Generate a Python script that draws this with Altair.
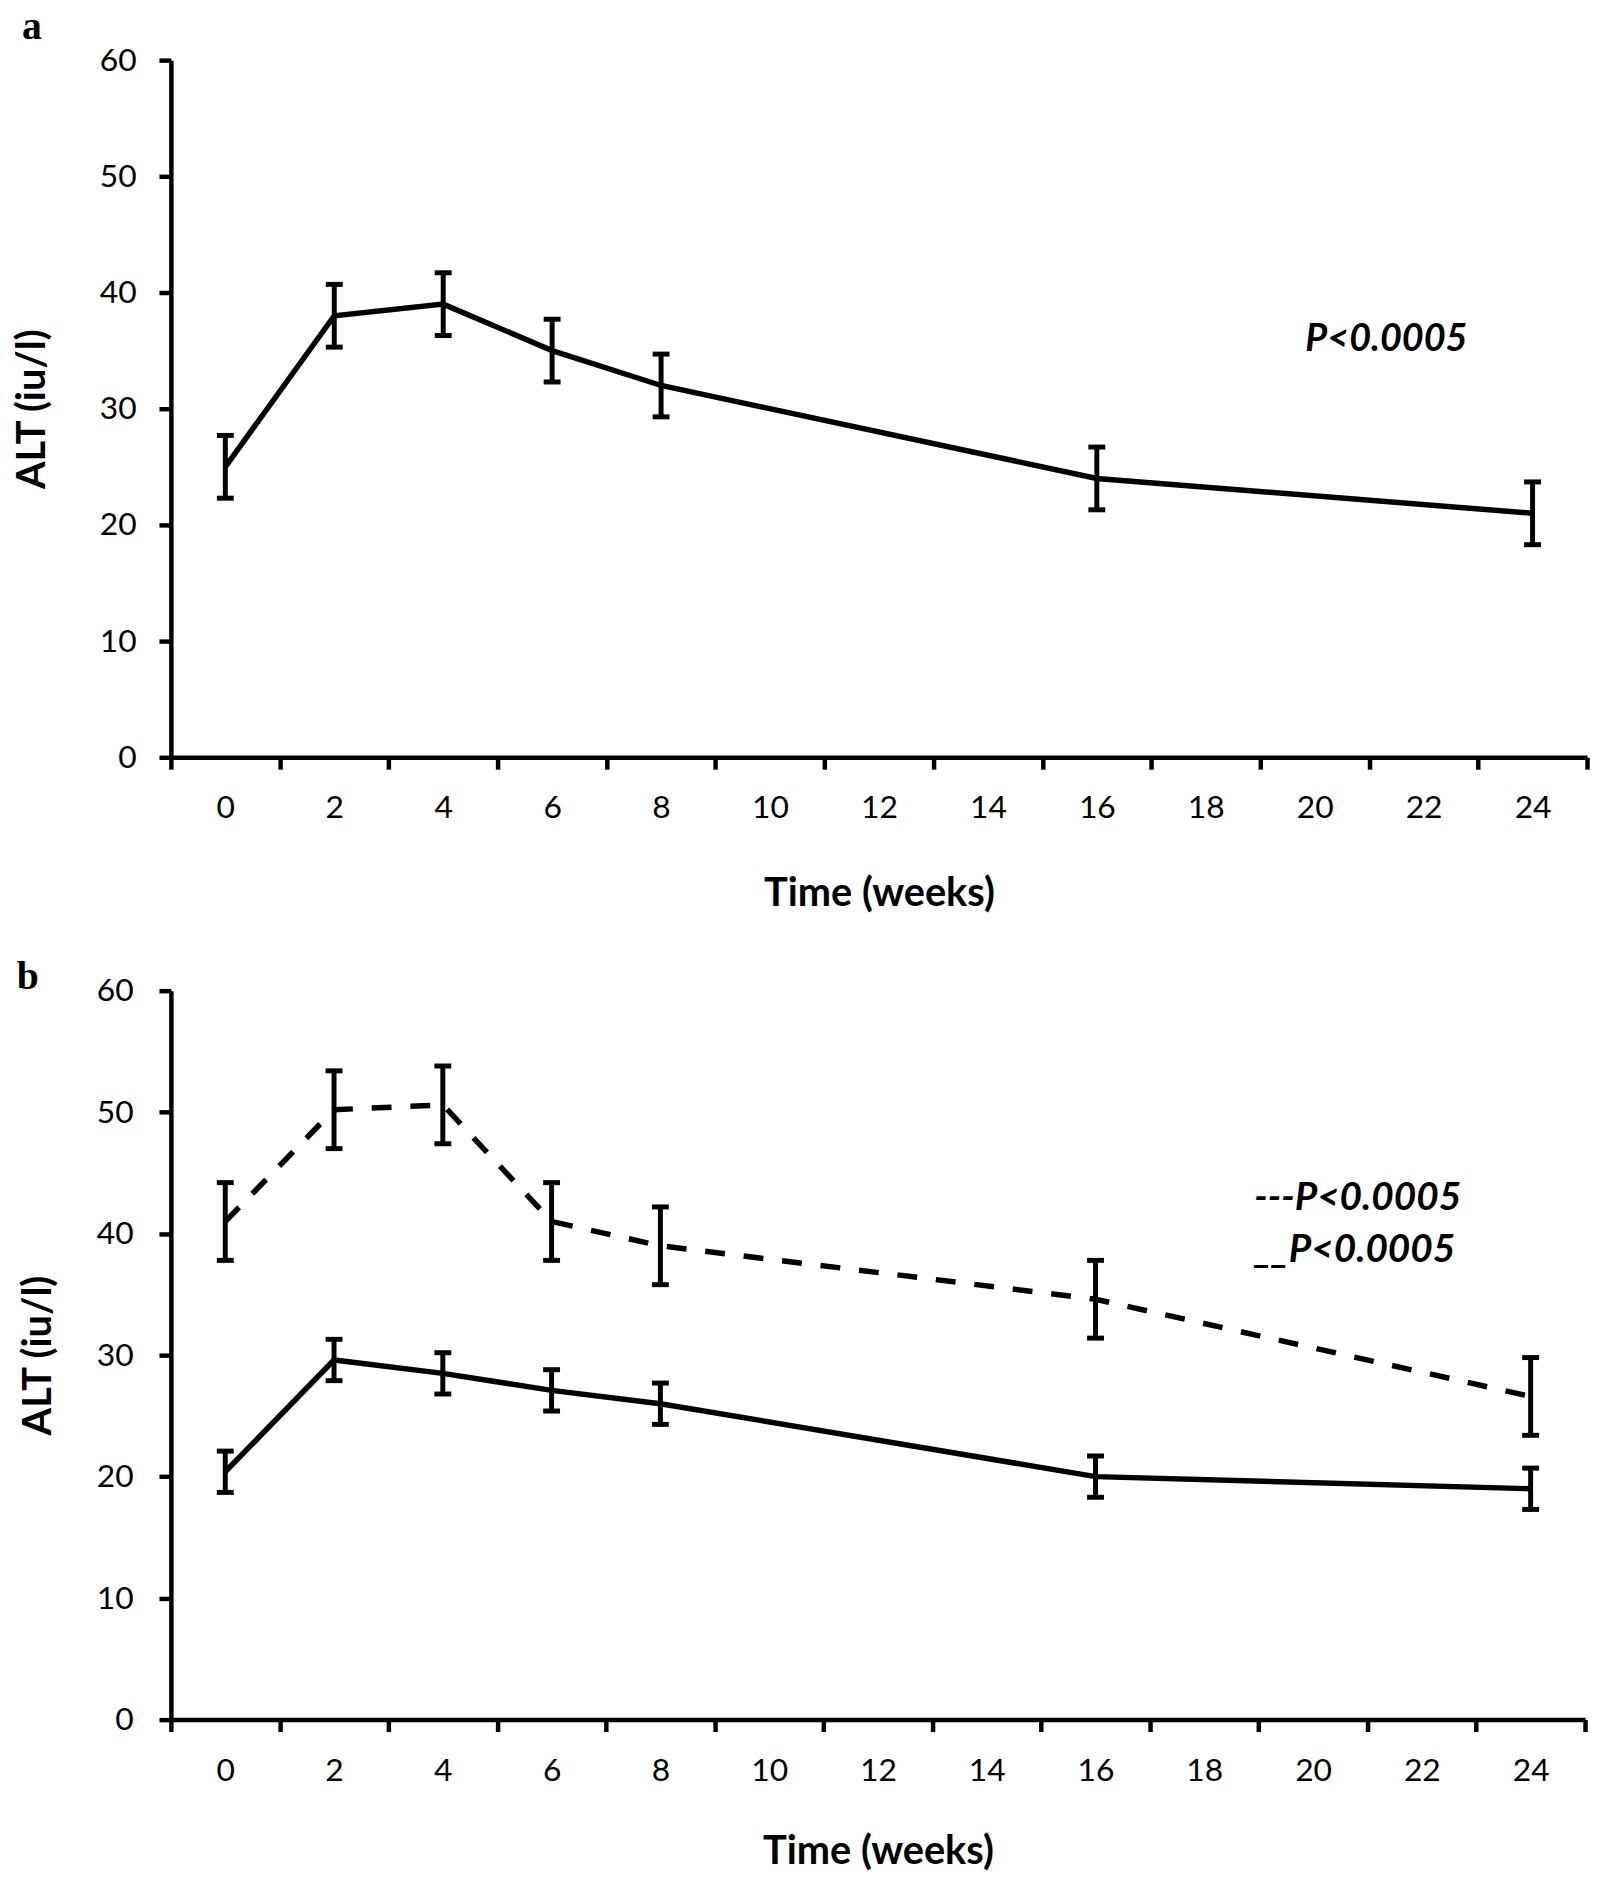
import altair as alt
import pandas as pd

# ---------------- data ----------------
week_labels = ["0", "2", "4", "6", "8", "10", "12", "14", "16", "18", "20", "22", "24"]
weeks = ["0", "2", "4", "6", "8", "16", "24"]

# panel a
a_mean = [25.0, 38.0, 39.0, 35.0, 32.0, 24.0, 21.0]
a_err = [2.7, 2.7, 2.7, 2.7, 2.7, 2.7, 2.7]

# panel b, dashed series
b_dash_mean = [41.0, 50.2, 50.6, 41.0, 39.0, 34.6, 26.6]
b_dash_err = [3.2, 3.2, 3.2, 3.2, 3.2, 3.2, 3.2]

# panel b, solid series
b_solid_mean = [20.4, 29.6, 28.5, 27.1, 26.0, 20.0, 19.0]
b_solid_err = [1.7, 1.7, 1.7, 1.7, 1.7, 1.7, 1.7]

y_ticks = [0, 10, 20, 30, 40, 50, 60]

FONT = "Lato"
LW = 5.5
AXW = 4.5


def make_df(mean, err):
    return pd.DataFrame({
        "week": weeks,
        "mean": mean,
        "lo": [m - e for m, e in zip(mean, err)],
        "hi": [m + e for m, e in zip(mean, err)],
    })


def x_enc(title_pad):
    return alt.X(
        "week:O",
        scale=alt.Scale(type="band", domain=week_labels, paddingInner=0, paddingOuter=0),
        axis=alt.Axis(
            title="Time (weeks)",
            tickBand="extent",
            labelAngle=0,
            labelPadding=24,
            titlePadding=title_pad,
        ),
    )


def y_scale():
    return alt.Scale(domain=[0, 60], nice=False, zero=True)


def series_layers(df, dashed, xpad, ylab_pad, ytitle_pad):
    base = alt.Chart(df)
    y = alt.Y(
        "mean:Q",
        scale=y_scale(),
        axis=alt.Axis(
            title="ALT (iu/l)",
            values=y_ticks,
            labelPadding=ylab_pad,
            titlePadding=ytitle_pad,
        ),
    )
    line_kw = dict(color="black", strokeWidth=LW)
    if dashed:
        line_kw["strokeDash"] = [20, 19]
    line = base.mark_line(**line_kw).encode(x=x_enc(xpad), y=y)
    rule = base.mark_rule(color="black", strokeWidth=5, opacity=1).encode(
        x=x_enc(xpad), y=alt.Y("lo:Q", scale=y_scale()), y2="hi:Q"
    )
    cap_lo = base.mark_tick(color="black", size=17, thickness=5, opacity=1,
                            orient="horizontal").encode(
        x=x_enc(xpad), y=alt.Y("lo:Q", scale=y_scale())
    )
    cap_hi = base.mark_tick(color="black", size=17, thickness=5, opacity=1,
                            orient="horizontal").encode(
        x=x_enc(xpad), y=alt.Y("hi:Q", scale=y_scale())
    )
    return [line, rule, cap_lo, cap_hi]


def text_layer(txt, x, y, size, font, weight, style="normal", align="left", baseline="alphabetic"):
    return alt.Chart(pd.DataFrame({"t": [txt]})).mark_text(
        font=font, fontSize=size, fontWeight=weight, fontStyle=style,
        align=align, baseline=baseline, color="black",
    ).encode(x=alt.value(x), y=alt.value(y), text="t:N")


# ---------------- panel a ----------------
df_a = make_df(a_mean, a_err)
layers_a = series_layers(df_a, False, 50, 23, 47)
layers_a.append(text_layer("a", -140, -21, 40, "Liberation Serif", "bold", align="center"))
layers_a.append(text_layer("P<0.0005", 1224, 293, 38, FONT, "bold", style="italic", align="center"))
panel_a = alt.layer(*layers_a).properties(width=1426, height=702)

# ---------------- panel b ----------------
df_bd = make_df(b_dash_mean, b_dash_err)
df_bs = make_df(b_solid_mean, b_solid_err)
layers_b = series_layers(df_bd, True, 46, 26, 38) + series_layers(df_bs, False, 46, 26, 38)
layers_b.append(text_layer("b", -144, -2, 40, "Liberation Serif", "bold", align="center"))
layers_b.append(text_layer("---P<0.0005", 1091, 221, 39, FONT, "bold", style="italic"))
layers_b.append(text_layer("__P<0.0005", 1091, 273, 39, FONT, "bold", style="italic"))
panel_b = alt.layer(*layers_b).properties(width=1424, height=734)

chart = (
    alt.vconcat(panel_a, panel_b, spacing=44)
    .properties(padding={"left": 4, "top": -7, "right": 0, "bottom": 0})
    .configure_view(stroke=None)
    .configure_axis(
        grid=False,
        domainColor="black",
        domainWidth=AXW,
        tickColor="black",
        tickWidth=AXW,
        tickSize=12,
        labelFont=FONT,
        labelFontSize=32,
        labelColor="black",
        titleFont=FONT,
        titleFontSize=40,
        titleFontWeight="bold",
        titleColor="black",
    )
)

chart.save("out.html", embed_options={"renderer": "svg", "actions": False})
